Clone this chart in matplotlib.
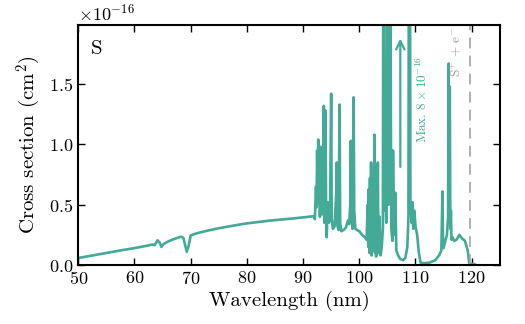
import numpy as np
import matplotlib
matplotlib.use("Agg")
import matplotlib.pyplot as plt

plt.rcParams['font.family'] = 'serif'
plt.rcParams['font.serif'] = ['cmr10']
plt.rcParams['mathtext.fontset'] = 'cm'
plt.rcParams['axes.formatter.use_mathtext'] = True

teal = '#42aa96'

# photoabsorption cross section of S, in units of 1e-16 cm^2
wl = [50.0, 52.0, 55.0, 58.0, 60.0, 62.0, 63.2, 63.6, 64.1, 64.5, 64.8, 65.2, 66.0,
      67.0, 68.3, 68.7, 69.0, 69.3, 69.6, 70.0, 71.0, 73.0, 75.0, 78.0, 80.0, 84.0,
      88.0, 91.0, 92.0,
      92.1, 92.3, 92.4, 92.5, 92.6, 92.7, 92.8, 92.9, 93.0, 93.1, 93.2, 93.3, 93.4,
      93.5, 93.7, 93.8, 93.9, 94.0, 94.1, 94.2, 94.4, 94.6, 94.8, 95.0, 95.1, 95.3,
      95.6, 95.9, 96.0, 96.1, 96.3, 96.5, 96.6, 96.8, 97.2, 97.6, 98.0, 98.2, 98.4,
      98.5, 98.6, 98.8, 99.0, 99.1, 99.3, 99.6, 100.0, 100.5, 101.0, 101.3,
      101.5, 101.6, 101.7, 101.8, 101.9, 102.0, 102.1, 102.2, 102.3, 102.5, 102.6,
      102.7, 102.8, 102.9, 103.0, 103.1, 103.2, 103.3, 103.4, 103.6, 103.8, 104.0,
      104.2, 104.3, 104.4, 104.6, 104.8, 105.0, 105.2, 105.4, 105.5, 105.7, 105.9,
      106.0, 106.2, 106.4, 106.6, 106.9, 107.3, 107.8, 108.2, 108.55, 108.75, 108.9,
      109.1, 109.3, 109.5, 109.6, 109.8, 110.0, 110.3, 110.6, 110.9, 111.5, 112.5,
      113.5, 114.2, 114.6, 114.8, 114.9, 115.0, 115.3, 115.6, 115.8, 115.9, 116.0,
      116.1, 116.2, 116.3, 116.4, 116.6, 116.9, 117.3, 117.8, 118.3, 118.8, 119.3,
      119.6, 119.8, 120.3, 120.8]
sigma = [0.058, 0.075, 0.100, 0.125, 0.140, 0.158, 0.170, 0.165, 0.205, 0.185, 0.150, 0.175, 0.195,
         0.215, 0.235, 0.225, 0.170, 0.110, 0.150, 0.245, 0.262, 0.285, 0.305, 0.330, 0.345, 0.368,
         0.385, 0.400, 0.405,
         0.380, 0.650, 0.480, 0.950, 0.600, 1.040, 0.520, 0.900, 0.400, 0.980, 0.550, 0.850, 0.420,
         0.700, 1.320, 0.350, 0.600, 1.280, 0.400, 0.230, 0.520, 0.350, 0.450, 1.420, 0.380, 0.300,
         0.320, 0.600, 0.850, 0.330, 0.290, 1.330, 0.350, 0.280, 0.290, 0.310, 0.370, 0.340, 0.500,
         1.030, 0.400, 0.300, 1.390, 0.450, 0.300, 0.290, 0.280, 0.250, 0.230, 0.210,
         0.500, 0.150, 0.630, 0.100, 0.720, 0.200, 0.850, 0.080, 0.600, 0.120, 0.500,
         1.080, 0.100, 0.550, 0.070, 0.780, 0.150, 0.850, 0.100, 0.400, 0.080, 0.150,
         0.300, 3.500, 0.450, 0.900, 0.350, 8.000, 0.500, 0.600, 2.600, 0.300, 0.200,
         0.950, 0.250, 0.600, 0.120, 0.080, 0.050, 0.040, 0.060, 0.150, 0.400, 5.500,
         0.550, 0.350, 0.520, 0.300, 0.450, 0.320, 0.250, 0.100, 0.020, 0.015, 0.020,
         0.040, 0.080, 0.120, 0.610, 0.180, 0.140, 0.200, 0.250, 0.400, 1.670, 0.350,
         1.480, 0.300, 0.450, 0.210, 0.230, 0.200, 0.210, 0.250, 0.220, 0.200, 0.120,
         0.000, 0.010, 0.010, 0.000]

wl = np.array(wl)
sigma = np.array(sigma) * 1e-16

threshold = 119.68   # S+ + e- ionization limit (nm)

fig = plt.figure(figsize=(5.25, 3.24), dpi=100)
ax = fig.add_axes([0.149, 0.182, 0.803, 0.741])

ax.plot(wl, sigma, color=teal, lw=1.9)
ax.axvline(threshold, color='#aaaaaa', lw=1.3, ls=(0, (6, 4)))

ax.annotate('', xy=(107.3, 1.90e-16), xytext=(107.3, 0.79e-16),
            arrowprops=dict(arrowstyle='->', color=teal, lw=1.6, mutation_scale=15))
ax.text(111.3, 1.37e-16, r'Max. $8\times10^{-16}$', rotation=90, color=teal,
        fontsize=9.5, ha='center', va='center')
ax.text(117.4, 1.97e-16, r'S$^{+}$ + e$^{-}$', rotation=90, color='#999999',
        fontsize=9.5, ha='center', va='top')
ax.text(0.03, 0.9, 'S', transform=ax.transAxes, fontsize=15, ha='left', va='center')

ax.set_xlim(50, 125)
ax.set_ylim(0, 1.99e-16)
ax.set_xticks([50, 60, 70, 80, 90, 100, 110, 120])
ax.set_yticks([0, 0.5e-16, 1.0e-16, 1.5e-16])
ax.tick_params(direction='in', top=True, right=True, length=5, width=1, labelsize=13)
for s in ax.spines.values():
    s.set_linewidth(1.5)
ax.yaxis.get_offset_text().set_fontsize(13)

ax.set_xlabel('Wavelength (nm)', fontsize=15, labelpad=3)
ax.set_ylabel(r'Cross section (cm$^2$)', fontsize=15)

fig.savefig('out.png', dpi=100)
